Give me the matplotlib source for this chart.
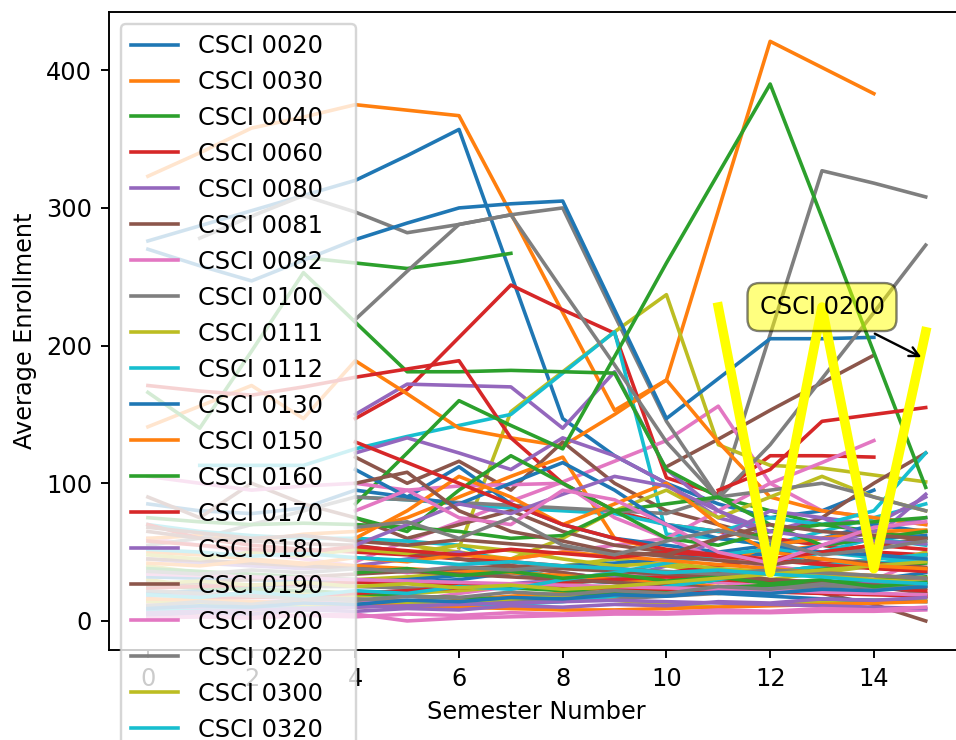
import numpy as np
import matplotlib.pyplot as plt
from matplotlib.transforms import Bbox

semesters = np.arange(16)

# enrollment per semester (None = course not offered)
csci_0020 = [276, 287, 298, 309, 320, 338, 357, 252, 147, 120, 100, 85, 75, 80, 95, None]
csci_0030 = [323, 340, 358, 366, 375, 371, 367, 296, 224, 153, 175, 298, 421, 402, 383, None]
csci_0040 = [None, None, None, 264, 260, 256, 261, 267, None, None, None, None, None, None, None, None]
csci_0060 = [None, None, None, None, 147, 168, 206, 244, 226, 209, 104, 92, 120, 120, 119, None]
csci_0080 = [None, None, None, None, 150, 172, 171, 170, 140, 181, 110, 80, 60, 55, 50, 45]
csci_0081 = [None, None, None, None, None, None, None, None, None, None, 112, 132, 153, 173, 193, None]
csci_0082 = [None, None, None, None, 43, 58, 72, 87, 101, 116, 131, 156, 100, 80, 75, 70]
csci_0100 = [None, 278, 294, 309, 297, 282, 288, 295, 300, 222, 145, 89, 208, 327, 318, 308]
csci_0111 = [None, None, None, None, None, None, 53, 152, 181, 210, 237, 128, 113, 111, 106, 101]
csci_0112 = [None, 113, 113, 113, 125, 134, 142, 150, 180, 210, 63, 60, 55, 65, 75, 85]
csci_0130 = [270, 258, 247, 262, 277, 289, 300, 303, 305, 226, 147, 176, 205, 205, 206, None]
csci_0150 = [141, 156, 171, 147, 189, 165, 140, 133, 127, 150, 175, 130, 90, 80, 75, 70]
csci_0160 = [166, 140, 196, 253, 217, 181, 181, 182, 181, 180, 110, 90, 80, 70, 65, 60]
csci_0170 = [171, 167, 164, 170, 177, 183, 189, 133, 100, 80, 70, 65, 60, 55, 50, 48]
csci_0180 = [None, None, None, None, 122, 133, 122, 110, 133, 120, 100, 75, 65, 75, 70, 90]
csci_0190 = [None, None, None, None, 119, 100, 116, 95, 130, 100, 80, 70, 60, 75, 100, 122]
csci_0200 = [60, 55, 50, 45, 40, 35, 40, 45, 50, 55, 60, 80, 100, 115, 131, None]
csci_0220 = [None, None, None, None, 219, 254, 288, 295, 240, 186, 130, 89, 128, 176, 224, 273]
csci_0300 = [None, None, None, None, 60, 55, 50, 45, 60, 80, 95, 75, 90, 105, 90, 80]
csci_0320 = [None, None, None, None, 90, 88, 85, 82, 80, 78, 70, 65, 75, 70, 80, 122]
csci_0330 = [85, 80, 78, 82, 95, 90, 112, 85, 70, 60, 55, 50, 55, 60, 70, 65]
csci_0360 = [60, 62, 58, 63, 65, 75, 90, 105, 119, 60, 50, 45, 50, 55, 60, 65]
csci_0410 = [None, None, None, None, 85, 122, 160, 142, 125, 192, 260, 325, 390, 293, 195, 97]
csci_0450 = [None, None, None, None, None, None, None, None, None, None, None, 95, 110, 145, 150, 155]
csci_0500 = [45, 42, 40, 38, 40, 45, 50, 40, 35, 30, 40, 60, 80, 75, 60, 92]
csci_1010 = [90, 75, 100, 85, 75, 60, 70, 80, 65, 55, 50, 45, 40, 50, 55, 60]
csci_1230 = [105, 100, 95, 98, 100, 95, 98, 99, 100, 75, 60, 45, 40, 35, 30, 45]
csci_1250 = [55, 60, 70, 80, 90, 88, 86, 84, 82, 80, 78, 90, 95, 100, 90, 80]
csci_1260 = [40, 35, 30, 28, 30, 32, 35, 38, 40, 45, 40, 35, 30, 35, 40, 50]
csci_1270 = [70, 65, 62, 60, 60, 58, 55, 40, 30, 28, 25, 30, 40, 50, 60, 55]
csci_1280 = [35, 32, 30, 29, 30, 28, 30, 35, 40, 42, 45, 50, 48, 55, 60, 62]
csci_1290 = [5, 6, 8, 9, 10, 12, 15, 18, 20, 25, 30, 40, 55, 60, 65, 66]
csci_1300 = [75, 72, 70, 71, 70, 68, 65, 60, 62, 80, 85, 90, 70, 55, 60, 65]
csci_1310 = [70, 60, 55, 52, 50, 48, 45, 43, 40, 38, 35, 40, 45, 42, 40, 38]
csci_1320 = [18, 19, 20, 20, 20, 22, 25, 27, 30, 32, 30, 28, 40, 55, 65, 75]
csci_1330 = [65, 60, 58, 56, 55, 50, 45, 40, 35, 30, 32, 35, 30, 28, 25, 20]
csci_1340 = [12, 13, 14, 15, 15, 14, 20, 25, 30, 35, 30, 28, 25, 22, 20, 18]
csci_1360 = [28, 27, 26, 25, 25, 24, 23, 25, 27, 30, 35, 32, 35, 40, 45, 48]
csci_1370 = [30, 25, 22, 20, 18, 20, 22, 25, 28, 30, 25, 20, 22, 25, 28, 30]
csci_1380 = [8, 9, 10, 11, 12, 10, 12, 14, 16, 20, 25, 30, 35, 40, 42, 45]
csci_1410 = [20, 22, 25, 27, 28, 30, 33, 35, 30, 28, 25, 22, 20, 25, 30, 35]
csci_1420 = [50, 48, 45, 42, 40, 38, 36, 35, 33, 30, 28, 25, 24, 22, 20, 18]
csci_1430 = [25, 24, 23, 22, 20, 18, 17, 16, 18, 20, 25, 30, 35, 38, 40, 42]
csci_1440 = [15, 16, 17, 18, 20, 22, 24, 26, 28, 30, 32, 30, 28, 26, 24, 22]
csci_1450 = [10, 10, 11, 12, 12, 13, 14, 15, 16, 18, 20, 22, 24, 26, 28, 30]
csci_1460 = [45, 44, 42, 40, 38, 36, 34, 32, 30, 28, 26, 24, 22, 20, 12, 0]
csci_1470 = [3, 3, 4, 4, 5, 0, 2, 3, 4, 5, 5, 6, 6, 7, 7, 8]
csci_1480 = [22, 20, 18, 17, 16, 15, 14, 14, 15, 16, 18, 20, 22, 24, 26, 28]
csci_1510 = [14, 13, 12, 12, 12, 13, 14, 16, 18, 15, 12, 10, 12, 14, 15, 16]
csci_1515 = [None, None, None, None, None, None, 10, 12, 14, 18, 25, 30, 35, 40, 45, 48]
csci_1550 = [32, 31, 30, 30, 29, 28, 27, 26, 25, 24, 22, 20, 18, 16, 15, 14]
csci_1570 = [16, 15, 14, 13, 12, 11, 10, 9, 8, 8, 9, 10, 11, 12, 13, 14]
csci_1580 = [38, 36, 34, 32, 30, 28, 26, 24, 22, 20, 22, 24, 26, 28, 30, 32]
csci_1600 = [24, 25, 26, 27, 28, 28, 27, 26, 25, 24, 23, 22, 21, 20, 19, 18]
csci_1610 = [6, 7, 8, 9, 10, 11, 12, 13, 14, 15, 14, 13, 12, 11, 10, 9]
csci_1620 = [26, 28, 30, 32, 34, 36, 38, 40, 38, 36, 34, 32, 30, 28, 26, 24]
csci_1660 = [34, 33, 32, 31, 30, 29, 28, 27, 26, 25, 24, 23, 22, 21, 20, 19]
csci_1670 = [11, 14, 12, 16, 15, 18, 17, 21, 19, 22, 20, 25, 23, 27, 24, 26]
csci_1680 = [48, 45, 50, 47, 52, 49, 55, 51, 45, 40, 42, 38, 36, 34, 30, 28]
csci_1690 = [19, 17, 21, 18, 22, 20, 25, 23, 30, 35, 42, 48, 52, 50, 46, 44]
csci_1710 = [9, 11, 10, 13, 12, 15, 14, 17, 16, 19, 18, 21, 20, 23, 22, 25]
csci_1730 = [42, 40, 44, 41, 46, 43, 48, 45, 50, 47, 44, 41, 38, 35, 33, 31]
csci_1760 = [None, None, None, None, 35, 38, 33, 36, 31, 34, 29, 32, 27, 30, 25, 28]
csci_1800 = [58, 55, 52, 50, 54, 51, 48, 52, 49, 46, 50, 47, 44, 41, 38, 36]
csci_1810 = [4, 6, 5, 8, 7, 9, 8, 11, 10, 12, 11, 14, 13, 16, 15, 17]
csci_1820 = [68, 64, 60, 62, 58, 55, 59, 56, 53, 50, 47, 44, 41, 45, 42, 39]
csci_1850 = [2, 3, 2, 4, 3, 5, 4, 6, 5, 7, 6, 8, 7, 9, 8, 10]
csci_1870 = [36, 34, 37, 35, 38, 36, 39, 37, 40, 38, 36, 34, 37, 35, 33, 31]
csci_1950 = [27, 29, 26, 28, 25, 27, 24, 26, 23, 25, 28, 31, 34, 37, 40, 43]
csci_1951 = [52, 50, 47, 49, 46, 44, 41, 43, 40, 38, 35, 37, 34, 32, 29, 27]
csci_2240 = [None, None, None, None, 110, 90, 85, 100, 115, 95, 70, 60, 55, 50, 48, 45]
csci_2270 = [None, None, None, None, 60, 80, 105, 90, 70, 85, 100, 70, 50, 45, 40, 38]
csci_2330 = [None, None, None, None, 75, 65, 95, 120, 100, 80, 60, 55, 65, 70, 72, 75]
csci_2370 = [None, None, None, None, 130, 115, 100, 85, 70, 60, 52, 48, 45, 50, 55, 52]
csci_2420 = [None, None, None, None, 55, 70, 85, 78, 92, 105, 98, 80, 65, 60, 58, 56]
csci_2440 = [None, None, None, None, 100, 108, 80, 65, 58, 50, 48, 60, 70, 65, 62, 60]
csci_2450 = [None, None, None, None, 80, 95, 75, 70, 95, 88, 70, 50, 42, 55, 68, 72]
csci_2952w = [None, None, None, None, 68, 72, 60, 75, 55, 48, 58, 66, 58, 48, 52, 58]

courses = ['CSCI 0020', 'CSCI 0030', 'CSCI 0040', 'CSCI 0060', 'CSCI 0080', 'CSCI 0081',
           'CSCI 0082', 'CSCI 0100', 'CSCI 0111', 'CSCI 0112', 'CSCI 0130', 'CSCI 0150',
           'CSCI 0160', 'CSCI 0170', 'CSCI 0180', 'CSCI 0190', 'CSCI 0200', 'CSCI 0220',
           'CSCI 0300', 'CSCI 0320', 'CSCI 0330', 'CSCI 0360', 'CSCI 0410', 'CSCI 0450',
           'CSCI 0500', 'CSCI 1010', 'CSCI 1230', 'CSCI 1250', 'CSCI 1260', 'CSCI 1270',
           'CSCI 1280', 'CSCI 1290', 'CSCI 1300', 'CSCI 1310', 'CSCI 1320', 'CSCI 1330',
           'CSCI 1340', 'CSCI 1360', 'CSCI 1370', 'CSCI 1380', 'CSCI 1410', 'CSCI 1420',
           'CSCI 1430', 'CSCI 1440', 'CSCI 1450', 'CSCI 1460', 'CSCI 1470', 'CSCI 1480',
           'CSCI 1510', 'CSCI 1515', 'CSCI 1550', 'CSCI 1570', 'CSCI 1580', 'CSCI 1600',
           'CSCI 1610', 'CSCI 1620', 'CSCI 1660', 'CSCI 1670', 'CSCI 1680', 'CSCI 1690',
           'CSCI 1710', 'CSCI 1730', 'CSCI 1760', 'CSCI 1800', 'CSCI 1810', 'CSCI 1820',
           'CSCI 1850', 'CSCI 1870', 'CSCI 1950', 'CSCI 1951', 'CSCI 2240', 'CSCI 2270',
           'CSCI 2330', 'CSCI 2370', 'CSCI 2420', 'CSCI 2440', 'CSCI 2450', 'CSCI 2952W']
series = [csci_0020, csci_0030, csci_0040, csci_0060, csci_0080, csci_0081,
          csci_0082, csci_0100, csci_0111, csci_0112, csci_0130, csci_0150,
          csci_0160, csci_0170, csci_0180, csci_0190, csci_0200, csci_0220,
          csci_0300, csci_0320, csci_0330, csci_0360, csci_0410, csci_0450,
          csci_0500, csci_1010, csci_1230, csci_1250, csci_1260, csci_1270,
          csci_1280, csci_1290, csci_1300, csci_1310, csci_1320, csci_1330,
          csci_1340, csci_1360, csci_1370, csci_1380, csci_1410, csci_1420,
          csci_1430, csci_1440, csci_1450, csci_1460, csci_1470, csci_1480,
          csci_1510, csci_1515, csci_1550, csci_1570, csci_1580, csci_1600,
          csci_1610, csci_1620, csci_1660, csci_1670, csci_1680, csci_1690,
          csci_1710, csci_1730, csci_1760, csci_1800, csci_1810, csci_1820,
          csci_1850, csci_1870, csci_1950, csci_1951, csci_2240, csci_2270,
          csci_2330, csci_2370, csci_2420, csci_2440, csci_2450, csci_2952w]

# highlighted course
highlight_name = 'CSCI 0200'
highlight = [None, None, None, None, None, None, None, None, None, None, None, 228, 35, 228, 38, 210]

fig, ax = plt.subplots()
for name, vals in zip(courses, series):
    ax.plot(semesters, np.array(vals, dtype=float), label=name)

ax.plot(semesters, np.array(highlight, dtype=float), color='yellow', linewidth=4, label='_nolegend_')
ax.annotate(highlight_name, xy=(15, 190), xytext=(13, 228), ha='center', va='center',
            bbox=dict(boxstyle='round,pad=0.5', fc='yellow', alpha=0.5),
            arrowprops=dict(arrowstyle='->', color='black'))

ax.set_xlabel('Semester Number')
ax.set_ylabel('Average Enrollment')
ax.legend(loc='upper left')

# the reference is a cropped view of the default 6.4x4.8 figure
dpi = 172.5
fig.savefig('out.png', dpi=dpi, bbox_inches=Bbox.from_bounds(29 / dpi, 1 / dpi, 956 / dpi, 740 / dpi))
